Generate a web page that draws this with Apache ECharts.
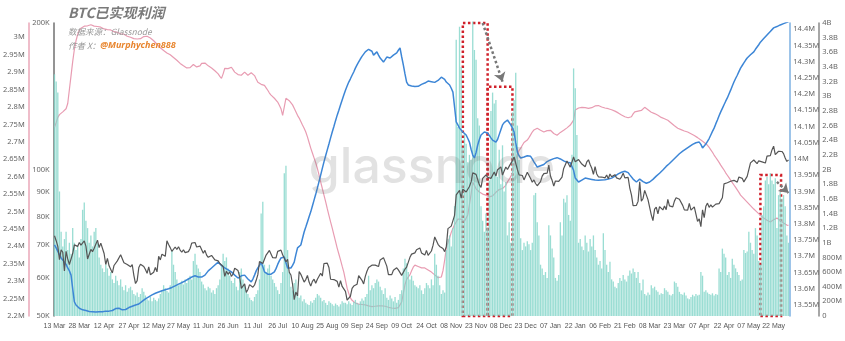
<!DOCTYPE html>
<html><head><meta charset="utf-8">
<script src="https://cdn.jsdelivr.net/npm/echarts@6/dist/echarts.min.js"></script>
<style>html,body{margin:0;padding:0;background:#fff}#c{width:845px;height:341px}</style>
</head><body><div id="c"></div>
<script>
// daily, 13 Mar 2024 .. 31 May 2025
const startDate = [2024, 2, 13];
const monthNames = ['Jan','Feb','Mar','Apr','May','Jun','Jul','Aug','Sep','Oct','Nov','Dec'];

// BTC price (K USD)
const priceK = [
73.1,71.4,69.5,65.3,68.4,67.6,61.9,67.9,65.5,63.8,64.0,67.2,70.0,69.9,69.5,70.8,69.9,69.7,71.3,
69.6,65.5,66.0,68.5,67.8,68.9,69.4,71.6,69.1,70.6,70.0,67.2,63.8,65.7,63.4,63.8,61.3,63.5,63.8,64.9,64.9,66.8,66.4,64.3,64.5,63.8,63.4,63.1,63.8,60.6,
58.3,59.1,62.9,63.9,64.0,63.2,62.3,61.2,63.1,60.8,60.8,61.5,62.9,61.6,66.3,65.2,67.0,67.0,66.3,71.4,70.1,69.1,67.9,68.5,69.3,68.5,69.4,68.3,67.6,68.4,67.5,
67.8,67.8,68.8,70.6,71.1,70.8,69.3,69.3,69.6,69.5,67.3,68.2,66.7,66.0,66.2,66.6,66.5,65.2,65.0,64.9,64.1,64.3,63.2,60.3,61.8,60.9,61.6,60.3,61.0,62.7,
62.9,62.0,60.2,57.0,56.7,58.2,55.9,56.7,58.0,57.7,57.3,57.9,59.2,60.8,64.7,65.1,64.1,63.9,66.7,67.2,68.2,67.6,65.9,65.4,65.8,67.9,68.0,68.3,66.8,66.2,64.6,
65.4,61.5,60.7,58.1,54.0,56.0,55.0,61.7,60.9,60.9,58.7,59.4,60.6,58.7,57.6,58.9,59.5,58.4,59.5,59.0,61.2,60.4,64.1,64.2,64.2,62.9,59.5,59.0,59.4,59.1,58.9,
57.3,59.1,57.5,58.0,56.2,53.9,54.2,54.9,57.0,57.6,57.3,58.1,60.5,60.0,59.2,58.2,60.3,61.8,62.9,63.2,63.6,63.3,63.6,64.1,63.2,65.2,65.8,65.9,65.6,63.3,
60.8,60.6,60.8,62.1,62.1,62.8,62.2,62.1,60.6,60.3,62.4,63.0,62.9,66.0,67.0,67.6,67.4,68.4,68.4,69.0,67.4,67.4,66.7,68.2,66.6,67.0,68.0,69.9,72.7,72.3,70.2,
69.5,69.4,68.8,67.8,69.4,75.6,76.0,76.5,76.7,80.5,88.7,88.0,90.6,87.3,91.1,90.6,89.9,90.5,92.3,94.3,98.4,98.9,97.7,98.0,93.0,91.9,95.9,95.6,97.5,96.4,
97.2,95.9,96.0,98.8,97.0,99.9,99.9,101.2,97.4,96.7,101.2,100.0,101.5,101.4,104.3,106.1,106.1,100.0,97.5,97.8,97.2,95.2,94.9,98.7,99.4,95.8,94.2,95.2,93.6,92.6,93.4,
94.4,96.9,98.1,98.2,98.3,102.1,96.9,95.0,92.5,94.7,94.6,94.5,94.5,96.5,100.5,99.9,104.1,104.4,101.1,102.0,106.1,103.7,104.0,104.8,104.7,102.6,102.1,101.3,103.7,104.7,102.4,
100.6,97.7,101.4,97.9,96.6,96.6,96.5,96.5,96.1,97.4,95.7,97.9,96.6,97.5,97.6,96.1,95.8,95.5,96.6,98.3,96.1,96.6,96.3,91.6,88.7,84.3,84.7,84.4,
86.0,94.3,86.1,87.2,90.6,89.9,86.7,86.2,80.7,78.5,82.9,83.7,81.1,83.9,84.3,82.6,84.1,82.7,86.8,84.2,84.0,83.8,86.1,87.5,87.4,86.9,87.2,84.4,82.6,82.3,82.5,
85.2,82.5,83.1,83.8,83.5,78.2,79.2,76.3,82.6,79.6,84.0,85.3,83.6,84.6,83.7,84.0,84.9,84.4,85.1,85.1,87.5,93.4,93.7,93.9,94.7,94.6,93.8,95.0,94.3,94.2,
96.5,96.9,95.9,94.3,94.7,96.8,97.0,103.2,102.9,104.6,104.1,102.8,104.2,103.5,103.7,103.5,103.1,106.5,105.6,106.8,109.7,111.7,107.3,108.0,109.0,109.4,108.9,107.8,105.6,103.9,104.6
];

// pink series (M), left outer axis
const pinkM = [
2.742,2.755,2.770,2.778,2.783,2.786,2.790,2.795,2.81,2.85,2.89,2.93,2.965,2.99,3.008,3.02,3.026,3.03,3.032,3.034,3.033,3.035,3.036,3.034,3.032,
3.030,3.031,3.028,3.029,3.026,3.024,3.025,3.022,3.020,3.021,3.018,3.016,3.017,3.014,3.012,
3.010,3.008,3.009,3.005,3.003,3.004,3.000,2.998,2.996,2.997,2.995,2.994,2.996,2.999,3.002,3.004,3.003,3.000,2.998,2.995,
2.990,2.985,2.980,2.975,2.970,2.965,2.962,2.958,2.955,2.953,2.950,2.946,2.942,2.938,2.934,2.930,2.925,2.921,2.918,2.915,
2.912,2.910,2.913,2.918,2.922,2.920,2.915,2.910,2.918,2.925,2.928,2.926,2.922,2.918,2.915,2.912,2.908,2.904,2.900,2.895,
2.888,2.882,2.895,2.911,2.913,2.910,2.912,2.914,2.907,2.900,2.896,2.893,2.890,2.891,2.896,2.900,2.895,2.891,2.894,2.898,
2.900,2.890,2.880,2.871,2.868,2.865,2.863,2.862,2.855,2.848,2.840,2.834,2.830,2.825,2.820,2.814,2.805,2.795,2.776,2.800,
2.825,2.822,2.818,2.814,2.806,2.796,2.786,2.776,2.768,2.758,2.748,2.739,2.728,2.714,2.698,2.682,2.668,2.654,2.640,2.624,
2.605,2.585,2.566,2.547,2.528,2.508,2.489,2.470,2.452,2.433,2.414,2.395,2.378,2.361,2.343,2.326,2.303,2.280,2.265,2.252,
2.245,2.240,2.237,2.235,2.234,2.232,2.233,2.231,2.232,2.230,2.229,2.228,2.227,2.226,2.228,2.230,2.229,2.228,2.229,2.229,
2.228,2.226,2.225,2.224,2.223,2.223,2.222,2.223,2.224,2.228,2.240,2.265,2.290,2.305,2.312,
2.318,2.330,2.340,2.346,2.344,2.342,2.340,2.338,2.340,2.338,2.335,2.332,2.330,2.326,2.322,2.318,2.314,2.310,2.309,2.312,2.330,2.36,
2.395,2.410,2.425,2.440,2.452,2.462,2.470,2.478,2.481,2.478,2.474,2.472,2.470,2.490,2.520,2.550,2.584,2.575,2.565,2.560,2.556,2.552,2.550,2.548,2.547,2.545,2.542,
2.540,2.545,2.550,2.555,2.560,2.563,2.565,2.566,2.567,2.575,2.585,2.592,2.596,2.610,2.630,2.650,2.665,2.675,2.682,2.690,2.698,2.702,2.705,2.712,2.720,2.728,2.734,
2.737,2.739,2.736,2.733,2.730,2.728,2.730,2.732,2.734,2.733,2.728,2.724,2.721,2.719,2.722,2.727,2.731,2.733,2.736,2.740,2.744,2.748,2.755,
2.762,2.791,2.796,2.797,2.798,2.799,2.799,2.798,2.797,2.796,2.796,2.798,2.801,2.803,2.805,2.804,2.802,2.800,2.798,2.797,2.796,
2.795,2.794,2.792,2.790,2.788,2.785,2.783,2.780,2.777,2.773,2.772,2.770,2.769,2.768,2.772,2.780,2.786,2.791,
2.788,2.785,2.790,2.795,2.799,2.797,2.792,2.788,2.785,2.783,2.781,2.779,2.776,2.773,2.770,2.768,2.766,2.764,2.762,2.758,
2.754,2.750,2.746,2.742,2.739,2.737,2.735,2.733,2.731,2.730,2.728,2.726,2.723,2.720,2.718,2.715,2.712,2.709,2.705,2.702,
2.698,2.694,2.690,2.684,2.677,2.670,2.662,2.655,2.648,2.641,2.633,2.626,2.619,2.611,2.604,2.597,2.590,2.583,2.576,2.569,
2.562,2.555,2.547,2.542,2.537,2.532,2.527,2.522,2.517,2.512,2.507,2.502,2.498,2.494,2.489,2.485,2.481,2.478,2.475,2.472,
2.470,2.472,2.476,2.479,2.481,2.478,2.474,2.470,2.467,2.464,2.461,2.460
];

// blue series (M), right inner axis
const blueM = [
13.735,13.726,13.715,13.705,13.695,13.690,13.682,13.675,13.664,13.655,13.642,13.600,13.560,13.550,13.544,
13.540,13.537,13.535,13.534,13.533,13.532,13.530,13.531,13.529,13.528,13.528,13.528,13.529,13.530,13.529,13.530,13.531,13.530,13.531,13.531,
13.533,13.536,13.539,13.541,13.540,13.537,13.535,13.534,13.536,13.539,13.542,13.544,13.546,13.548,13.550,13.550,13.553,13.557,13.561,13.565,
13.569,13.572,13.575,13.578,13.581,13.583,13.586,13.588,13.590,13.592,13.594,13.596,13.597,13.598,13.600,13.602,13.604,13.607,13.609,13.612,
13.614,13.616,13.619,13.621,13.624,13.627,13.630,13.633,13.636,13.638,13.640,13.642,13.636,13.633,13.636,13.640,13.642,13.648,13.655,13.660,
13.664,13.668,13.673,13.678,13.682,13.678,13.672,13.667,13.664,13.661,13.658,13.655,13.652,13.647,13.642,13.637,13.633,13.636,13.640,13.642,
13.642,13.636,13.630,13.625,13.621,13.630,13.642,13.655,13.664,13.672,13.682,13.668,13.652,13.648,13.645,13.642,13.645,13.648,13.652,13.662,
13.675,13.686,13.695,13.697,13.698,13.680,13.664,13.664,13.664,13.672,13.682,13.705,13.726,13.730,13.735,13.755,13.775,13.790,13.806,13.822,
13.837,13.855,13.873,13.891,13.910,13.930,13.950,13.971,13.991,14.010,14.028,14.046,14.065,14.083,14.100,14.118,14.135,14.150,14.166,14.182,
14.197,14.212,14.225,14.237,14.247,14.258,14.268,14.280,14.290,14.299,14.308,14.316,14.323,14.330,14.334,14.338,14.342,14.332,14.320,14.326,
14.330,14.320,14.311,14.305,14.299,14.306,14.314,14.312,14.311,14.316,14.320,14.324,14.327,14.335,14.342,14.315,14.290,14.262,14.237,14.228,
14.222,14.225,14.228,14.223,14.219,14.224,14.228,14.230,14.232,14.234,14.236,14.240,14.243,14.238,14.234,14.236,14.237,14.242,14.248,14.252,
14.253,14.245,14.237,14.232,14.228,14.218,14.206,14.160,14.114,14.105,14.095,14.089,14.083,14.078,14.074,14.063,14.052,14.030,14.012,14.003,
14.020,14.043,14.060,14.074,14.080,14.083,14.082,14.080,14.077,14.065,14.058,14.055,14.052,14.060,14.075,14.090,14.105,14.112,14.118,14.120,
14.116,14.105,14.095,14.083,14.050,14.021,14.010,14.003,14.004,14.006,14.008,14.010,14.012,14.008,14.000,13.991,13.983,13.975,13.977,13.979,
13.981,13.983,13.988,13.992,13.995,13.997,13.999,14.001,14.003,14.004,14.003,14.000,13.997,13.994,13.992,13.990,13.989,13.988,13.985,13.965,
13.941,13.935,13.929,13.932,13.935,13.938,13.941,13.940,13.939,13.938,13.937,13.936,13.935,13.935,13.934,13.935,13.935,13.936,13.936,13.937,
13.938,13.940,13.941,13.944,13.947,13.951,13.954,13.957,13.959,13.960,13.962,13.963,13.958,13.951,13.945,13.938,13.932,13.929,13.935,13.938,
13.934,13.930,13.926,13.925,13.926,13.929,13.933,13.937,13.942,13.947,13.951,13.956,13.961,13.966,13.972,13.977,13.981,13.986,13.991,13.996,
14.001,14.006,14.012,14.016,14.020,14.024,14.028,14.031,14.034,14.038,14.042,14.045,14.049,14.050,14.051,14.052,14.045,14.034,14.040,14.046,
14.052,14.063,14.074,14.085,14.095,14.108,14.120,14.133,14.145,14.156,14.167,14.178,14.188,14.200,14.212,14.225,14.237,14.248,14.258,14.269,
14.280,14.288,14.296,14.304,14.311,14.316,14.321,14.326,14.330,14.338,14.345,14.352,14.360,14.366,14.371,14.377,14.382,14.388,14.393,14.399,
14.404,14.406,14.408,14.411,14.413,14.415,14.417,14.420,14.421,14.422
];

// realized profit bars (M USD)
const profitM = [
3300,3200,3050,1700,1150,950,1050,1150,900,1000,
850,1200,1000,900,950,800,1050,1450,1550,1300,
1200,1000,1100,950,1150,1200,1000,800,700,650,
600,700,650,550,600,500,450,550,480,420,
500,400,350,420,330,380,400,350,300,280,
320,260,300,380,330,280,230,210,260,200,
250,220,200,240,300,350,420,380,340,320,420,
900,700,600,500,420,450,480,430,500,450,520,550,500,750,850,700,650,600,
470,430,380,350,400,380,320,
350,300,380,420,500,700,
850,750,800,650,550,
480,450,520,400,350,600,
650,500,420,350,300,250,
220,200,260,300,350,500,
1400,1560,700,
600,650,700,550,500,450,400,
350,300,450,600,
1950,2050,
900,600,400,350,450,500,
300,250,280,200,230,180,
160,150,200,180,220,250,300,280,
250,200,220,180,150,200,180,160,140,170,
150,130,160,200,180,
180,160,200,170,150,190,220,180,160,200,240,210,
260,300,550,350,
420,380,450,500,470,400,
350,300,380,250,220,280,
240,200,260,180,220,300,350,
650,780,720,600,500,
550,480,420,400,
380,420,350,300,380,450,
420,380,500,420,
850,700,
550,420,300,350,320,
900,1050,1100,950,1200,
1500,3770,2580,3950,3400,2300,2500,2350,2100,2200,2130,4020,3630,3500,2700,2600,1500,1300,1150,1400,1200,1850,
2800,3050,2900,2950,1900,2270,1800,2330,1700,1830,1100,1280,1000,2780,2950,3320,2600,2130,1060,900,1000,950,1020,980,900,1000,1650,1680,1280,1100,
700,650,560,600,520,1240,1100,920,800,520,480,560,1280,1100,1600,1550,1650,1380,1300,2200,3380,3110,2470,
1000,1050,950,900,1100,1000,880,1050,950,1100,900,800,700,750,650,1130,900,700,600,740,500,470,400,380,450,520,480,560,500,470,550,620,580,650,600,520,
600,450,350,500,300,280,320,
290,420,380,400,350,
330,290,310,300,
380,350,330,
290,280,300,
470,450,400,
330,300,290,320,280,
240,230,260,
290,270,300,280,290,
600,550,
330,350,320,
300,290,310,280,300,290,
650,600,
920,850,
800,
560,600,520,
780,700,
650,600,
560,480,500,
900,860,880,
1150,1000,
900,850,
1200,1100,
750,700,
1380,1500,
1850,1900,1800,1950,1850,1800,1880,
1200,1650,1700,1600,1650,1500,1100,1000
];

// axis tick labels
const pinkTicksM = [2.2,2.25,2.3,2.35,2.4,2.45,2.5,2.55,2.6,2.65,2.7,2.75,2.8,2.85,2.9,2.95,3];
const priceTicksK = [50,60,70,80,90,100,200];
const blueTicksM = [13.55,13.6,13.65,13.7,13.75,13.8,13.85,13.9,13.95,14,14.05,14.1,14.15,14.2,14.25,14.3,14.35,14.4];

// annotations (category index, value on profit axis)
const boxes = [{from:250,to:258,top:4000},{from:263,to:271,top:3130},{from:429,to:436,top:1925}];
const arrows = [{from:[259,4000],to:[271,3200]},{from:[437,1830],to:[444,1680]}];

const cats = [];
for (let i = 0; i < priceK.length; i++) {
  const t = new Date(Date.UTC(startDate[0], startDate[1], startDate[2] + i));
  cats.push(String(t.getUTCDate()).padStart(2,'0') + ' ' + monthNames[t.getUTCMonth()]);
}

const fmtM = v => parseFloat((+v).toFixed(2)) + 'M';
const fmtB = v => v === 0 ? '0' : (v < 1000 ? v + 'M' : parseFloat((v/1000).toFixed(1)) + 'B');
const lab = {color:'#666', fontSize:7.5, fontFamily:'"Noto Sans", sans-serif'};
const noSplit = {show:false};
const noTick = {show:false};

const chart = echarts.init(document.getElementById('c'), null, {renderer:'canvas'});
chart.setOption({
  animation:false,
  backgroundColor:'#fff',
  grid:{left:50, right:52, top:23, bottom:25},
  xAxis:{type:'category', data:cats, boundaryGap:true,
    axisLine:{show:false}, axisTick:noTick,
    axisLabel:{color:'#555', fontSize:7, fontFamily:'"Liberation Sans", Arial, sans-serif',
      interval:14, margin:7, showMinLabel:true, hideOverlap:false}},
  yAxis:[
    {type:'log', logBase:10, min:50, max:200, position:'left', offset:0,
      axisLine:{show:true, lineStyle:{color:'#707070', width:1.5}}, axisTick:noTick, splitLine:noSplit,
      axisLabel:Object.assign({}, lab, {margin:4, customValues:priceTicksK, formatter:v => Math.round(v) + 'K'})},
    {type:'value', min:2.2, max:3.041, position:'left', offset:25,
      axisLine:{show:true, lineStyle:{color:'#eaa7b9', width:1.5}}, axisTick:noTick, splitLine:noSplit,
      axisLabel:Object.assign({}, lab, {margin:4, customValues:pinkTicksM, formatter:fmtM})},
    {type:'value', min:13.516, max:14.419, position:'right', offset:0,
      axisLine:{show:true, lineStyle:{color:'#7cb0e2', width:1.5}}, axisTick:noTick, splitLine:noSplit,
      axisLabel:Object.assign({}, lab, {margin:4, customValues:blueTicksM, formatter:fmtM})},
    {type:'value', min:0, max:4000, interval:200, position:'right', offset:29,
      axisLine:{show:true, lineStyle:{color:'#8a8a8a', width:1.5}}, axisTick:noTick, splitLine:noSplit,
      axisLabel:Object.assign({}, lab, {margin:4, formatter:fmtB})}
  ],
  series:[
    {type:'line', name:'pink', yAxisIndex:1, data:pinkM, symbol:'none', z:1,
      lineStyle:{color:'#e89cb2', width:1.2}, itemStyle:{color:'#e89cb2'}},
    {type:'bar', name:'profit', yAxisIndex:3, data:profitM, z:2, clip:false,
      barCategoryGap:'20%', itemStyle:{color:'#84d5c9', opacity:0.82},
      markArea:{silent:true, label:{show:false},
        itemStyle:{color:'rgba(0,0,0,0)', borderColor:'#d0202a', borderWidth:2.5, borderType:'dotted', opacity:1},
        data:boxes.map(b => [{xAxis:cats[b.from], yAxis:b.top}, {xAxis:cats[b.to], yAxis:0}])},
      markLine:{silent:true, symbol:['none','arrow'], symbolSize:9, label:{show:false},
        lineStyle:{color:'#777', width:2.5, type:'dotted', opacity:1}, itemStyle:{color:'#777'},
        data:arrows.map(a => [{coord:[cats[a.from[0]], a.from[1]]}, {coord:[cats[a.to[0]], a.to[1]]}])}},
    {type:'line', name:'blue', yAxisIndex:2, data:blueM, symbol:'none', z:3,
      lineStyle:{color:'#3d86d6', width:1.5}, itemStyle:{color:'#3d86d6'}},
    {type:'line', name:'price', yAxisIndex:0, data:priceK, symbol:'none', z:3,
      lineStyle:{color:'#555', width:1.2}, itemStyle:{color:'#555'}}
  ],
  graphic:[
    {type:'text', x:432, y:168, z:50, silent:true,
      style:{text:'glassnode', fontSize:50, fontFamily:'Inter, sans-serif', fontWeight:500,
        fill:'rgba(110,110,110,0.2)', textAlign:'center', textVerticalAlign:'middle', align:'center', verticalAlign:'middle'}},
    {type:'text', x:68, y:6, z:60,
      style:{text:'BTC已实现利润', fontSize:14, fontWeight:'bold', fontStyle:'italic',
        fontFamily:'"Noto Sans CJK SC", sans-serif', fill:'#7a7a7a'}},
    {type:'text', x:68, y:28, z:60,
      style:{text:'数据来源：Glassnode', fontSize:8.5, fontStyle:'italic',
        fontFamily:'"Noto Sans CJK SC", sans-serif', fill:'#999'}},
    {type:'text', x:68, y:41, z:60,
      style:{text:'{a|作者 X：}{b|@Murphychen888}', fontFamily:'"Noto Sans CJK SC", sans-serif',
        rich:{a:{fontSize:8.5, fontStyle:'italic', fill:'#999', color:'#999', fontFamily:'"Noto Sans CJK SC", sans-serif'},
              b:{fontSize:9, fontStyle:'italic', fontWeight:'bold', fill:'#e8852e', color:'#e8852e', fontFamily:'"Noto Sans", sans-serif'}}}}
  ]
});
</script></body></html>
